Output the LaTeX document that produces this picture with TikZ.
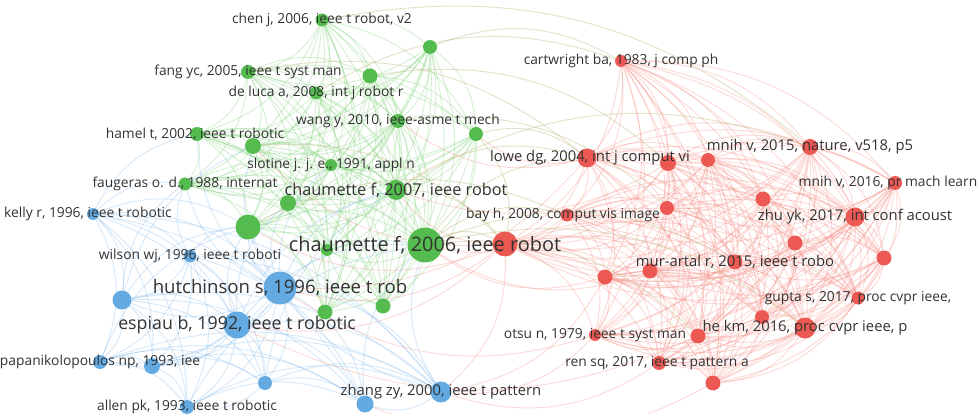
\documentclass[tikz,border=0pt]{standalone}
\usepackage{fontspec}
\setmainfont{Open Sans}
\usepackage{xcolor}
\usepackage{tikz}
\usetikzlibrary{backgrounds}

\definecolor{grn}{RGB}{84,188,78}
\definecolor{blu}{RGB}{100,170,226}
\definecolor{rd}{RGB}{236,88,82}
\definecolor{grnline}{RGB}{125,208,118}
\definecolor{bluline}{RGB}{130,184,234}
\definecolor{rdline}{RGB}{244,130,120}
\definecolor{mixline}{RGB}{190,185,125}
\definecolor{txt}{RGB}{50,50,50}

\begin{document}
\begin{tikzpicture}[x=1pt,y=-1pt]

% Define styles
\tikzset{
    gnode/.style={circle, fill=grn, inner sep=0pt},
    bnode/.style={circle, fill=blu, inner sep=0pt},
    rnode/.style={circle, fill=rd, inner sep=0pt},
    gedge/.style={draw=grnline, line width=1pt, opacity=0.3},
    bedge/.style={draw=bluline, line width=1pt, opacity=0.3},
    redge/.style={draw=rdline, line width=1pt, opacity=0.28},
    xedge/.style={draw=mixline, line width=1pt, opacity=0.4},
    lbl/.style={text=txt, inner sep=0pt, font=\fontsize{13.8}{15}\selectfont},
    lblm/.style={lbl, font=\fontsize{14.8}{16}\selectfont}
}

\useasboundingbox (0,0) rectangle (978,414);

% green cluster
\foreach \n/\x/\y/\d in {g1/322/20/13, g2/430/47/14, g3/248/72/14, g4/370/76/15,
    g5/316/93/13, g6/398/121/14, g7/476/134/14, g8/197/134/14, g9/253/146/16,
    g10/331/165/12, g11/185/184/13, g12/396/190/20, g13/288/203/16, g14/248/227/25,
    g15/425/245/35, g16/325/312/15, g17/383/306/15, g18/327/250/12}
    \node[gnode, minimum size=\d pt] (\n) at (\x,\y) {};

% blue cluster
\foreach \n/\x/\y/\d in {b1/93/214/12, b2/190/256/13, b3/280/288/33, b4/122/300/19,
    b5/237/325/27, b6/100/362/14, b7/152/366/16, b8/265/383/14, b9/187/407/14,
    b10/441/392/21, b11/365/404/17}
    \node[bnode, minimum size=\d pt] (\n) at (\x,\y) {};

% red cluster
\foreach \n/\x/\y/\d in {r1/621/61/12, r2/587/158/19, r3/668/163/16, r4/708/160/14,
    r5/810/147/16, r6/895/183/14, r7/567/215/13, r8/667/208/14, r9/763/199/15,
    r10/855/217/19, r11/795/243/15, r12/884/258/15, r13/505/244/25, r14/735/262/15,
    r15/650/271/15, r16/605/277/15, r17/762/317/14, r18/858/298/13, r19/805/328/21,
    r20/698/336/15, r21/595/335/12, r22/659/363/14, r23/713/383/15}
    \node[rnode, minimum size=\d pt] (\n) at (\x,\y) {};

% links
\begin{scope}[on background layer]
\foreach \i in {1,...,18}{
    \foreach \j in {1,...,18}{
        \ifnum\i<\j \draw[gedge] (g\i) to[bend left=25] (g\j); \fi
    }
}
\foreach \i in {1,...,11}{
    \foreach \j in {1,...,11}{
        \ifnum\i<\j \draw[bedge] (b\i) to[bend left=25] (b\j); \fi
    }
}
\foreach \i in {1,...,23}{
    \foreach \j in {1,...,23}{
        \ifnum\i<\j \draw[redge] (r\i) to[bend left=25] (r\j); \fi
    }
}
% between clusters
\foreach \a/\b in {b3/g15, b3/g12, b3/g14, b3/g13, b5/g15, b5/g14, b2/g14, b1/g14,
    b1/g11, b4/g14, b3/g10, b3/g9, b5/g12, b10/g15, b11/g15, b10/g14, b3/g8,
    b2/g11, b4/g11, b3/g11, b1/g8, b5/g13, b4/g9, b6/g14, b9/g15, b8/g12}
    \draw[bedge] (\a) to[bend left=25] (\b);
\foreach \a/\b in {g15/r2, g15/r13, g15/r7, g15/r14, g12/r2, g12/r13, g7/r2,
    g7/r13, g4/r3, g15/r19, g12/r5, g15/r20, g6/r8, g9/r13, g14/r7,
    g2/r1, g5/r1, g1/r5, g3/r2}
    \draw[xedge] (\a) to[bend left=25] (\b);
\foreach \a/\b in {r13/b3, r13/b5, r16/b10, r21/b10, r22/b10, r2/b3, r23/b11,
    r20/b5, r21/b3, r13/g14, r2/g6, r2/g7, r7/g15, r13/g12, r13/g9, r13/b10,
    r16/g15, r15/g15, r3/g12}
    \draw[redge] (\a) to[bend left=25] (\b);
\end{scope}

% labels
\node[lbl] (g1l) at (g1) {chen j, 2006, ieee t robot, v2};
\node[lbl] (g3l) at (g3) {fang yc, 2005, ieee t syst man};
\node[lbl] (g5l) at (g5) {de luca a, 2008, int j robot r};
\node[lbl] (g6l) at (g6) {wang y, 2010, ieee-asme t mech};
\node[lbl] (g8l) at ([xshift=-2pt]g8) {hamel t, 2002, ieee t robotic};
\node[lbl] (g10l) at (g10) {slotine j. j. e., 1991, appl n};
\node[lbl] (g11l) at (g11) {faugeras o. d., 1988, internat};
\node[lbl, font=\fontsize{16.3}{18}\selectfont] (g12l) at (g12) {chaumette f, 2007, ieee robot};
\node[lbl, font=\fontsize{19.9}{22}\selectfont] (g15l) at (g15) {chaumette f, 2006, ieee robot};

\node[lbl] (b1l) at ([xshift=-5pt]b1) {kelly r, 1996, ieee t robotic};
\node[lbl] (b2l) at (b2) {wilson wj, 1996, ieee t roboti};
\node[lbl, font=\fontsize{18.6}{21}\selectfont] (b3l) at (b3) {hutchinson s, 1996, ieee t rob};
\node[lbl, font=\fontsize{17.8}{20}\selectfont] (b5l) at (b5) {espiau b, 1992, ieee t robotic};
\node[lbl] (b6l) at (b6) {papanikolopoulos np, 1993, iee};
\node[lbl] (b9l) at (b9) {allen pk, 1993, ieee t robotic};
\node[lblm] (b10l) at (b10) {zhang zy, 2000, ieee t pattern};

\node[lbl] (r1l) at (r1) {cartwright ba, 1983, j comp ph};
\node[lblm] (r2l) at ([xshift=3pt]r2) {lowe dg, 2004, int j comput vi};
\node[lblm] (r5l) at (r5) {mnih v, 2015, nature, v518, p5};
\node[lbl] (r6l) at ([xshift=-7pt]r6) {mnih v, 2016, pr mach learn};
\node[lbl] (r7l) at ([xshift=-4pt]r7) {bay h, 2008, comput vis image};
\node[lblm] (r10l) at (r10) {zhu yk, 2017, int conf acoust};
\node[lblm] (r14l) at (r14) {mur-artal r, 2015, ieee t robo};
\node[lbl] (r18l) at (r18) {gupta s, 2017, proc cvpr ieee,};
\node[lblm] (r19l) at (r19) {he km, 2016, proc cvpr ieee, p};
\node[lbl] (r21l) at (r21) {otsu n, 1979, ieee t syst man};
\node[lbl] (r22l) at ([xshift=-2pt]r22) {ren sq, 2017, ieee t pattern a};

\end{tikzpicture}
\end{document}
